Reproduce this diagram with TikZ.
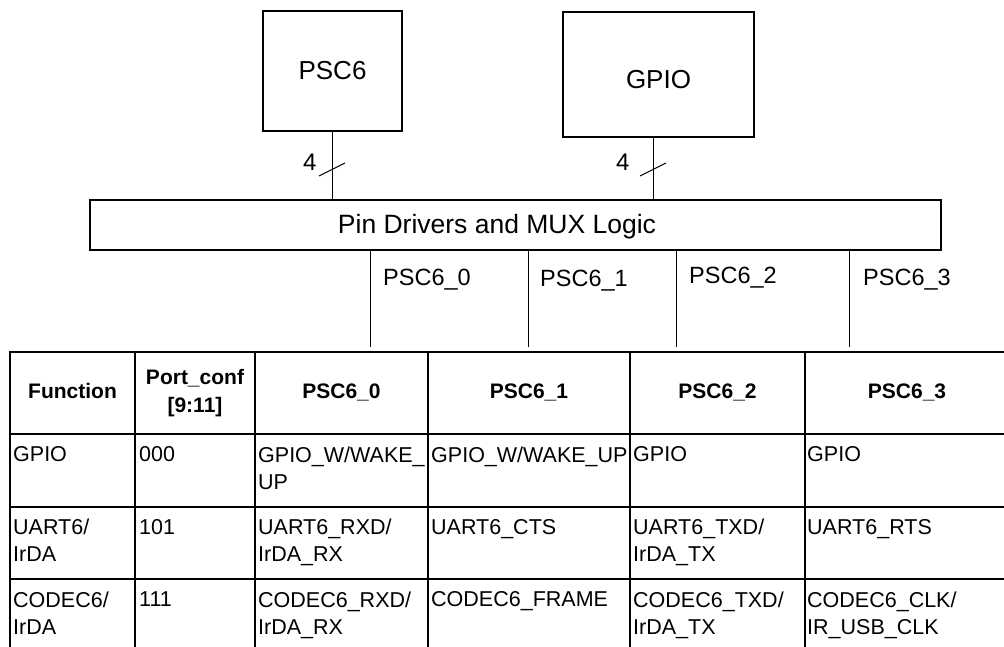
\documentclass[tikz,border=0pt]{standalone}
\usepackage{fontspec}
\setmainfont{Liberation Sans}

\begin{document}
\begin{tikzpicture}[x=1pt, y=-1pt,
  block/.style={draw, line width=1.6pt, inner sep=0pt, font=\fontsize{26}{30}\selectfont},
  wire/.style={line width=1pt},
  grid/.style={line width=1.8pt, line cap=rect},
  sig/.style={anchor=base west, inner sep=0pt, font=\fontsize{23.5}{28}\selectfont},
  head/.style={inner sep=0pt, align=center, font=\fontsize{21}{28}\selectfont\bfseries},
  cell/.style={anchor=north west, inner sep=0pt, align=left, font=\fontsize{21.5}{27}\selectfont}]
\useasboundingbox (0,0) rectangle (1004,646);

% sources
\node[block, minimum width=139pt, minimum height=120pt] (psc) at (332.5,71) {PSC6};
\node[block, minimum width=191pt, minimum height=125pt, text height=27pt, text depth=0pt] (gpio) at (658.5,74.5) {GPIO};
\node[block, minimum width=851pt, minimum height=50pt] (mux) at (515.5,225) {};
\node[inner sep=0pt, font=\fontsize{26.5}{30}\selectfont] (muxtext) at (497,227) {Pin Drivers and MUX Logic};

% 4-bit buses
\coordinate (gpiopin) at ([xshift=-5.5pt]gpio.south);
\draw[wire] (psc.south) -- (psc.south |- mux.north);
\draw[wire] (gpiopin) -- (gpiopin |- mux.north);
\draw[wire] (319,176) -- (345,163);
\draw[wire] (640,176) -- (666,163);
\node[sig, font=\fontsize{24}{28}\selectfont] (bus1) at (303,170) {4};
\node[sig, font=\fontsize{24}{28}\selectfont] (bus2) at (616,170) {4};

% pins down to the table
\coordinate (tabtop) at (10,347);
\foreach \x in {370,528,676,849}
  \draw[wire] (\x,0 |- mux.south) -- (\x,0 |- tabtop);
\node[sig] (pin0) at (383,285) {PSC6\_0};
\node[sig] (pin1) at (540,286) {PSC6\_1};
\node[sig] (pin2) at (689,283) {PSC6\_2};
\node[sig] (pin3) at (863,285) {PSC6\_3};

% table
\foreach \y in {352,434,507,579}
  \draw[grid] (10,\y) -- (1004,\y);
\foreach \x in {10,135,255,428,630,805}
  \draw[grid] (\x,352) -- (\x,646);

\node[head, anchor=base] (h1) at (72.5,398) {Function};
\node[head] (h2) at (195,393.5) {Port\_conf\\{[9:11]}};
\node[head, anchor=base] (h3) at (341.5,398) {PSC6\_0};
\node[head, anchor=base] (h4) at (529,398) {PSC6\_1};
\node[head, anchor=base] (h5) at (717.5,398) {PSC6\_2};
\node[head, anchor=base] (h6) at (907,398) {PSC6\_3};

\node[cell] (r1c1) at (13,446.5) {GPIO};
\node[cell] (r1c2) at (139,446.5) {000};
\node[cell] (r1c3) at (258,446.5) {GPIO\_W/WAKE\_\\UP};
\node[cell] (r1c4) at (431,446.5) {GPIO\_W/WAKE\_UP};
\node[cell] (r1c5) at (633,446.5) {GPIO};
\node[cell] (r1c6) at (807,446.5) {GPIO};

\node[cell] (r2c1) at (13,519) {UART6/\\IrDA};
\node[cell] (r2c2) at (139,519) {101};
\node[cell] (r2c3) at (258,519) {UART6\_RXD/\\IrDA\_RX};
\node[cell] (r2c4) at (431,519) {UART6\_CTS};
\node[cell] (r2c5) at (633,519) {UART6\_TXD/\\IrDA\_TX};
\node[cell] (r2c6) at (807,519) {UART6\_RTS};

\node[cell] (r3c1) at (13,591.5) {CODEC6/\\IrDA};
\node[cell] (r3c2) at (139,591.5) {111};
\node[cell] (r3c3) at (258,591.5) {CODEC6\_RXD/\\IrDA\_RX};
\node[cell] (r3c4) at (431,591.5) {CODEC6\_FRAME};
\node[cell] (r3c5) at (633,591.5) {CODEC6\_TXD/\\IrDA\_TX};
\node[cell] (r3c6) at (807,591.5) {CODEC6\_CLK/\\IR\_USB\_CLK};
\end{tikzpicture}
\end{document}
